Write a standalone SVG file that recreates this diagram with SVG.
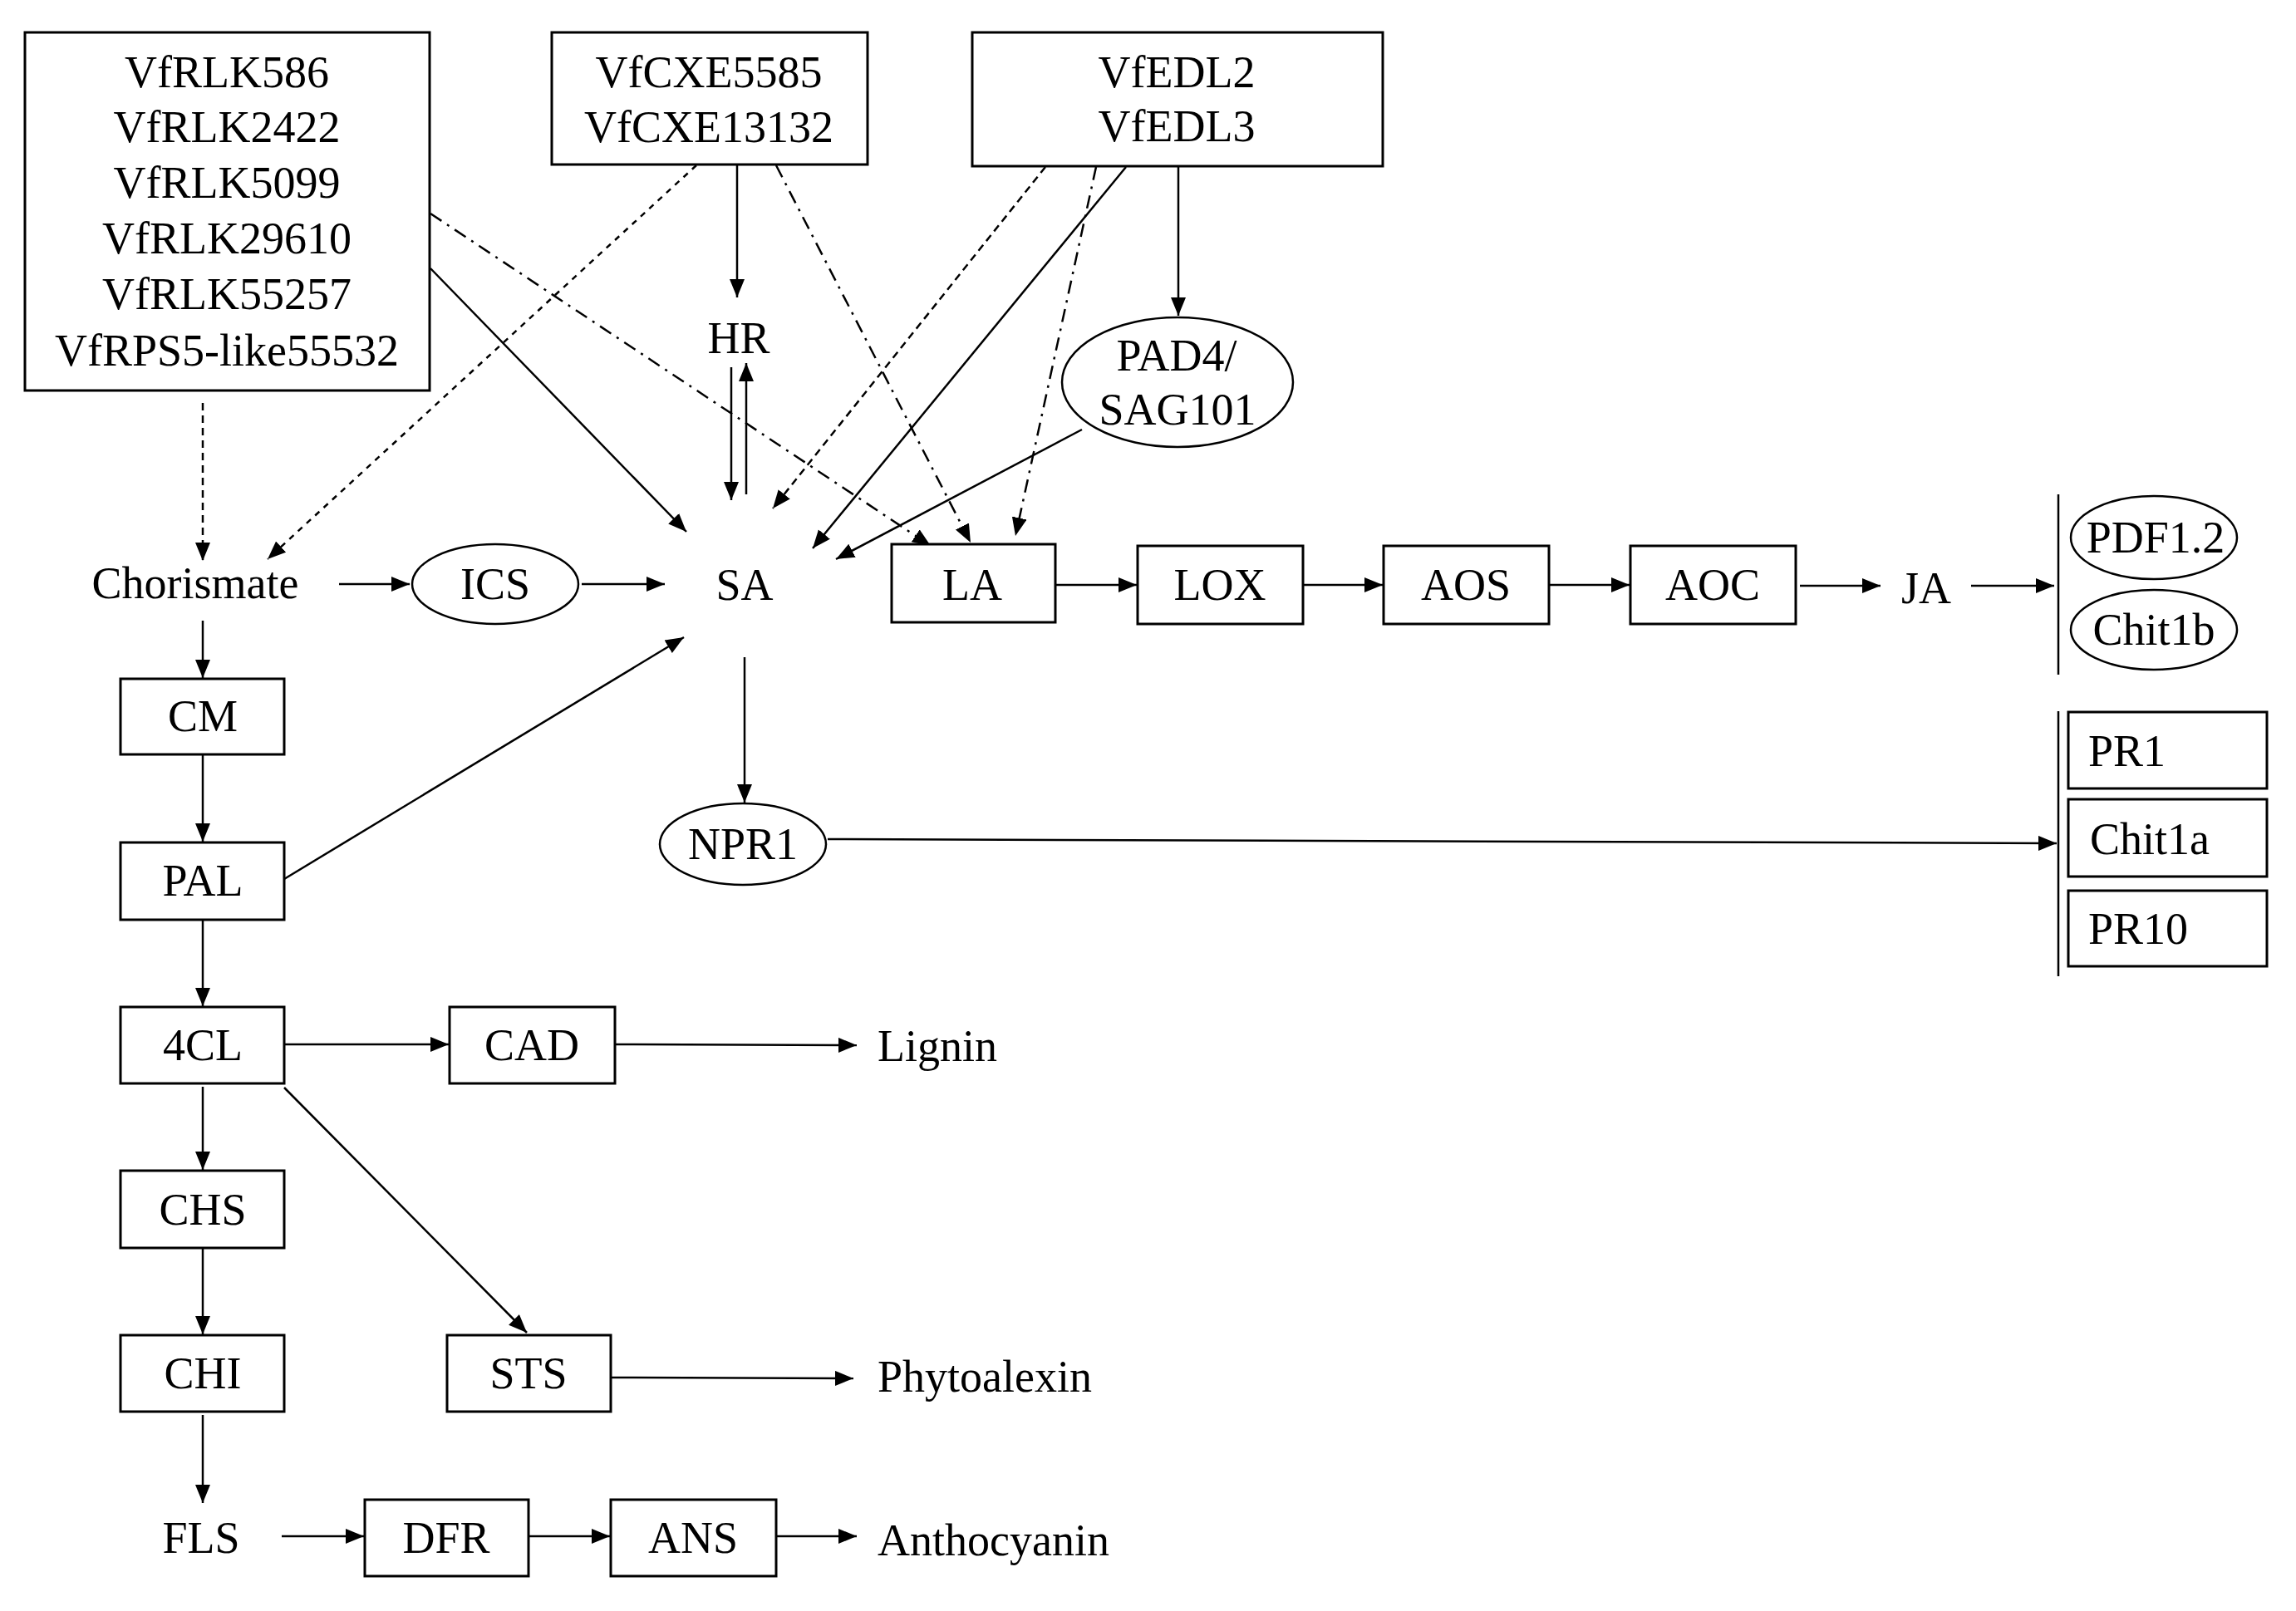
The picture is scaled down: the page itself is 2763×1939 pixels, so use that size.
<svg xmlns="http://www.w3.org/2000/svg" width="2763" height="1939" viewBox="0 0 2763 1939">
<defs>
<marker id="ah" markerUnits="userSpaceOnUse" markerWidth="24" markerHeight="20" refX="22" refY="9" orient="auto">
<path d="M0,0 L22,9 L0,18 z" fill="#000"/>
</marker>
<style>
text{font-family:"Liberation Serif","Times New Roman",serif;font-size:54px;fill:#000;text-anchor:middle}
.st{text-anchor:start}
.box{fill:#fff;stroke:#000;stroke-width:3}
.ell{fill:#fff;stroke:#000;stroke-width:2.5}
.c{fill:none;stroke:#000;stroke-width:2.5;marker-end:url(#ah)}
.dash{stroke-dasharray:9 6}
.dash2{stroke-dasharray:7 7}
.dd{stroke-dasharray:16 8 3 8}
.bar{fill:none;stroke:#000;stroke-width:2.5}
</style>
</defs>
<rect width="2763" height="1939" fill="#fff"/>

<g id="connectors">
<line class="c dash" x1="244" y1="485" x2="244" y2="675"/>
<line class="c dash2" x1="838" y1="199" x2="322" y2="673"/>
<line class="c" x1="518" y1="323" x2="826" y2="640"/>
<line class="c dd" x1="518" y1="257" x2="1120" y2="657"/>
<line class="c" x1="887" y1="199" x2="887" y2="358"/>
<line class="c" x1="880" y1="442" x2="880" y2="602"/>
<line class="c" x1="898" y1="595" x2="898" y2="437"/>
<line class="c dd" x1="934" y1="199" x2="1168" y2="653"/>
<line class="c dash" x1="1258" y1="201" x2="930" y2="612"/>
<line class="c" x1="1355" y1="201" x2="978" y2="660"/>
<line class="c dd" x1="1319" y1="201" x2="1222" y2="645"/>
<line class="c" x1="1418" y1="201" x2="1418" y2="380"/>
<line class="c" x1="1302" y1="517" x2="1006" y2="673"/>
<line class="c" x1="408" y1="703" x2="493" y2="703"/>
<line class="c" x1="700" y1="703" x2="800" y2="703"/>
<line class="c" x1="244" y1="747" x2="244" y2="816"/>
<line class="c" x1="244" y1="908" x2="244" y2="1013"/>
<line class="c" x1="342" y1="1058" x2="823" y2="767"/>
<line class="c" x1="896" y1="791" x2="896" y2="966"/>
<line class="c" x1="996" y1="1010" x2="2475" y2="1015"/>
<line class="c" x1="1270" y1="704" x2="1368" y2="704"/>
<line class="c" x1="1568" y1="704" x2="1664" y2="704"/>
<line class="c" x1="1864" y1="704" x2="1961" y2="704"/>
<line class="c" x1="2166" y1="705" x2="2263" y2="705"/>
<line class="c" x1="2372" y1="705" x2="2472" y2="705"/>
<line class="c" x1="244" y1="1107" x2="244" y2="1211"/>
<line class="c" x1="342" y1="1257" x2="540" y2="1257"/>
<line class="c" x1="740" y1="1257" x2="1031" y2="1258"/>
<line class="c" x1="244" y1="1308" x2="244" y2="1408"/>
<line class="c" x1="342" y1="1309" x2="634" y2="1604"/>
<line class="c" x1="244" y1="1502" x2="244" y2="1606"/>
<line class="c" x1="735" y1="1658" x2="1027" y2="1659"/>
<line class="c" x1="244" y1="1703" x2="244" y2="1809"/>
<line class="c" x1="339" y1="1849" x2="438" y2="1849"/>
<line class="c" x1="636" y1="1849" x2="734" y2="1849"/>
<line class="c" x1="934" y1="1849" x2="1031" y2="1849"/>
<line class="bar" x1="2477" y1="595" x2="2477" y2="812"/>
<line class="bar" x1="2477" y1="856" x2="2477" y2="1175"/>
</g>

<g id="node-rlk">
<rect class="box" x="30" y="39" width="487" height="431"/>
<text x="273" y="105">VfRLK586</text>
<text x="273" y="171">VfRLK2422</text>
<text x="273" y="238">VfRLK5099</text>
<text x="273" y="305">VfRLK29610</text>
<text x="273" y="372">VfRLK55257</text>
<text x="273" y="440">VfRPS5-like55532</text>
</g>
<g id="node-cxe">
<rect class="box" x="664" y="39" width="380" height="159"/>
<text x="853" y="105">VfCXE5585</text>
<text x="853" y="171">VfCXE13132</text>
</g>
<g id="node-edl">
<rect class="box" x="1170" y="39" width="494" height="161"/>
<text x="1416" y="105">VfEDL2</text>
<text x="1416" y="170">VfEDL3</text>
</g>
<g id="node-hr"><text x="889" y="425">HR</text></g>
<g id="node-pad4">
<ellipse class="ell" cx="1417" cy="460" rx="139" ry="78"/>
<text x="1416" y="446">PAD4/</text>
<text x="1417" y="511">SAG101</text>
</g>
<g id="node-chorismate"><text x="235" y="720">Chorismate</text></g>
<g id="node-ics">
<ellipse class="ell" cx="596" cy="703" rx="100" ry="48"/>
<text x="596" y="721">ICS</text>
</g>
<g id="node-sa"><text x="896" y="722">SA</text></g>
<g id="node-la"><rect class="box" x="1073" y="655" width="197" height="94"/><text x="1170" y="722">LA</text></g>
<g id="node-lox"><rect class="box" x="1369" y="657" width="199" height="94"/><text x="1468" y="722">LOX</text></g>
<g id="node-aos"><rect class="box" x="1665" y="657" width="199" height="94"/><text x="1764" y="722">AOS</text></g>
<g id="node-aoc"><rect class="box" x="1962" y="657" width="199" height="94"/><text x="2061" y="722">AOC</text></g>
<g id="node-ja"><text x="2318" y="726">JA</text></g>
<g id="node-pdf12">
<ellipse class="ell" cx="2592" cy="647" rx="100" ry="50"/>
<text x="2594" y="665">PDF1.2</text>
</g>
<g id="node-chit1b">
<ellipse class="ell" cx="2592" cy="758" rx="100" ry="48"/>
<text x="2592" y="776">Chit1b</text>
</g>
<g id="node-pr1"><rect class="box" x="2489" y="857" width="239" height="92"/><text class="st" x="2513" y="922">PR1</text></g>
<g id="node-chit1a"><rect class="box" x="2489" y="962" width="239" height="93"/><text class="st" x="2515" y="1028">Chit1a</text></g>
<g id="node-pr10"><rect class="box" x="2489" y="1072" width="239" height="91"/><text class="st" x="2513" y="1136">PR10</text></g>
<g id="node-npr1">
<ellipse class="ell" cx="894" cy="1016" rx="100" ry="49"/>
<text x="894" y="1034">NPR1</text>
</g>
<g id="node-cm"><rect class="box" x="145" y="817" width="197" height="91"/><text x="244" y="880">CM</text></g>
<g id="node-pal"><rect class="box" x="145" y="1014" width="197" height="93"/><text x="244" y="1078">PAL</text></g>
<g id="node-4cl"><rect class="box" x="145" y="1212" width="197" height="92"/><text x="244" y="1276">4CL</text></g>
<g id="node-cad"><rect class="box" x="541" y="1212" width="199" height="92"/><text x="640" y="1276">CAD</text></g>
<g id="node-lignin"><text class="st" x="1056" y="1277">Lignin</text></g>
<g id="node-chs"><rect class="box" x="145" y="1409" width="197" height="93"/><text x="244" y="1474">CHS</text></g>
<g id="node-chi"><rect class="box" x="145" y="1607" width="197" height="92"/><text x="244" y="1671">CHI</text></g>
<g id="node-sts"><rect class="box" x="538" y="1607" width="197" height="92"/><text x="636" y="1671">STS</text></g>
<g id="node-phytoalexin"><text class="st" x="1056" y="1675">Phytoalexin</text></g>
<g id="node-fls"><text x="242" y="1869">FLS</text></g>
<g id="node-dfr"><rect class="box" x="439" y="1805" width="197" height="92"/><text x="537" y="1869">DFR</text></g>
<g id="node-ans"><rect class="box" x="735" y="1805" width="199" height="92"/><text x="834" y="1869">ANS</text></g>
<g id="node-anthocyanin"><text class="st" x="1056" y="1872">Anthocyanin</text></g>
</svg>
